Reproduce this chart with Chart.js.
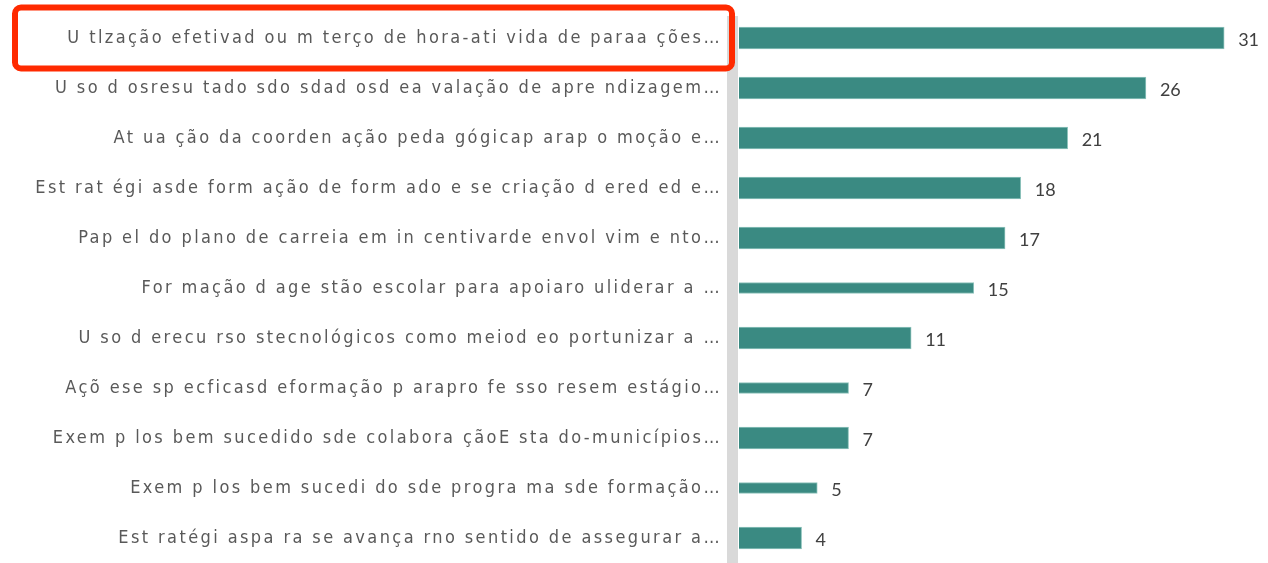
<!DOCTYPE html>
<html>
<head>
<meta charset="utf-8">
<script src="https://cdn.jsdelivr.net/npm/chart.js@4.4.1/dist/chart.umd.min.js"></script>
<style>
  html, body { margin: 0; padding: 0; background: #fff; }
  #wrap { width: 1268px; height: 563px; }
</style>
</head>
<body>
<div id="wrap"><canvas id="chart"></canvas></div>
<script>
const labels = [
  'U tlzação efetivad ou m terço de hora-ati vida de paraa ções…',
  'U so d osresu tado sdo sdad osd ea valação de apre ndizagem…',
  'At ua ção da coorden ação peda gógicap arap o moção e…',
  'Est rat égi asde form ação de form ado e se criação d ered ed e…',
  'Pap el do plano de carreia em in centivarde envol vim e nto…',
  'For mação d age stão escolar para apoiaro uliderar a …',
  'U so d erecu rso stecnológicos como meiod eo portunizar a …',
  'Açõ ese sp ecficasd eformação p arapro fe sso resem estágio…',
  'Exem p los bem sucedido sde colabora çãoE sta do-municípios…',
  'Exem p los bem sucedi do sde progra ma sde formação…',
  'Est ratégi aspa ra se avança rno sentido de assegurar a…'
];
const counts = [31, 26, 21, 18, 17, 15, 11, 7, 7, 5, 4];
const thinRows = [5, 7, 9];

const barColor = '#3a8a82';

// spaced-out lettering for the category labels
// (canvas resize wipes context state, so set it again before layout and draw)
const spacing = (chart) => { chart.ctx.letterSpacing = '2.4px'; };
const letterSpacing = {
  id: 'letterSpacing',
  beforeLayout: spacing,
  beforeDraw: spacing
};

// grey band along the category axis
const axisBand = {
  id: 'axisBand',
  beforeDatasetsDraw(chart) {
    const { ctx, chartArea } = chart;
    ctx.save();
    ctx.fillStyle = '#d9d9d9';
    ctx.fillRect(chartArea.left - 12, chartArea.top + 3, 11, chartArea.bottom - chartArea.top);
    ctx.restore();
  }
};

// value labels at the end of each bar
const valueLabels = {
  id: 'valueLabels',
  afterDatasetsDraw(chart) {
    const { ctx } = chart;
    ctx.save();
    ctx.letterSpacing = '0px';
    ctx.fillStyle = '#404040';
    ctx.font = '18px Lato, "Open Sans", sans-serif';
    ctx.textAlign = 'left';
    ctx.textBaseline = 'middle';
    chart.data.datasets.forEach((ds, di) => {
      chart.getDatasetMeta(di).data.forEach((bar, i) => {
        if (ds.data[i] == null) return;
        ctx.fillText(ds.data[i], bar.x + 14, bar.y + 2);
      });
    });
    ctx.restore();
  }
};

// red highlight box around the first category label
const highlight = {
  id: 'highlight',
  afterDraw(chart) {
    const { ctx, chartArea } = chart;
    const y0 = chart.scales.y.getPixelForValue(0);
    ctx.save();
    ctx.strokeStyle = '#ff2a00';
    ctx.lineWidth = 6;
    ctx.beginPath();
    ctx.roundRect(15, y0 - 30.5, chartArea.left - 22, 61, 6);
    ctx.stroke();
    ctx.restore();
  }
};

new Chart(document.getElementById('chart'), {
  type: 'bar',
  data: {
    labels: labels,
    datasets: [
      {
        data: counts.map((v, i) => thinRows.includes(i) ? null : v),
        backgroundColor: barColor,
        borderColor: '#8fc3bc',
        borderWidth: 1,
        barThickness: 22,
        grouped: false
      },
      {
        data: counts.map((v, i) => thinRows.includes(i) ? v : null),
        backgroundColor: barColor,
        borderColor: '#8fc3bc',
        borderWidth: 1,
        barThickness: 11,
        grouped: false
      }
    ]
  },
  options: {
    indexAxis: 'y',
    responsive: true,
    maintainAspectRatio: false,
    animation: false,
    layout: { padding: { top: 13, right: 0, bottom: 0, left: 0 } },
    plugins: {
      legend: { display: false },
      tooltip: { enabled: false }
    },
    scales: {
      x: {
        display: false,
        min: 0,
        max: 33.8
      },
      y: {
        afterFit: (scale) => {
          scale.width = 739;
          scale.paddingTop = 0;
          scale.paddingBottom = 0;
        },
        grid: { display: false, drawTicks: false },
        border: { display: false },
        ticks: {
          autoSkip: false,
          padding: 17,
          color: '#595959',
          font: { family: '"DejaVu Sans Condensed", "DejaVu Sans", sans-serif', size: 18 }
        }
      }
    }
  },
  plugins: [letterSpacing, axisBand, valueLabels, highlight]
});
</script>
</body>
</html>
